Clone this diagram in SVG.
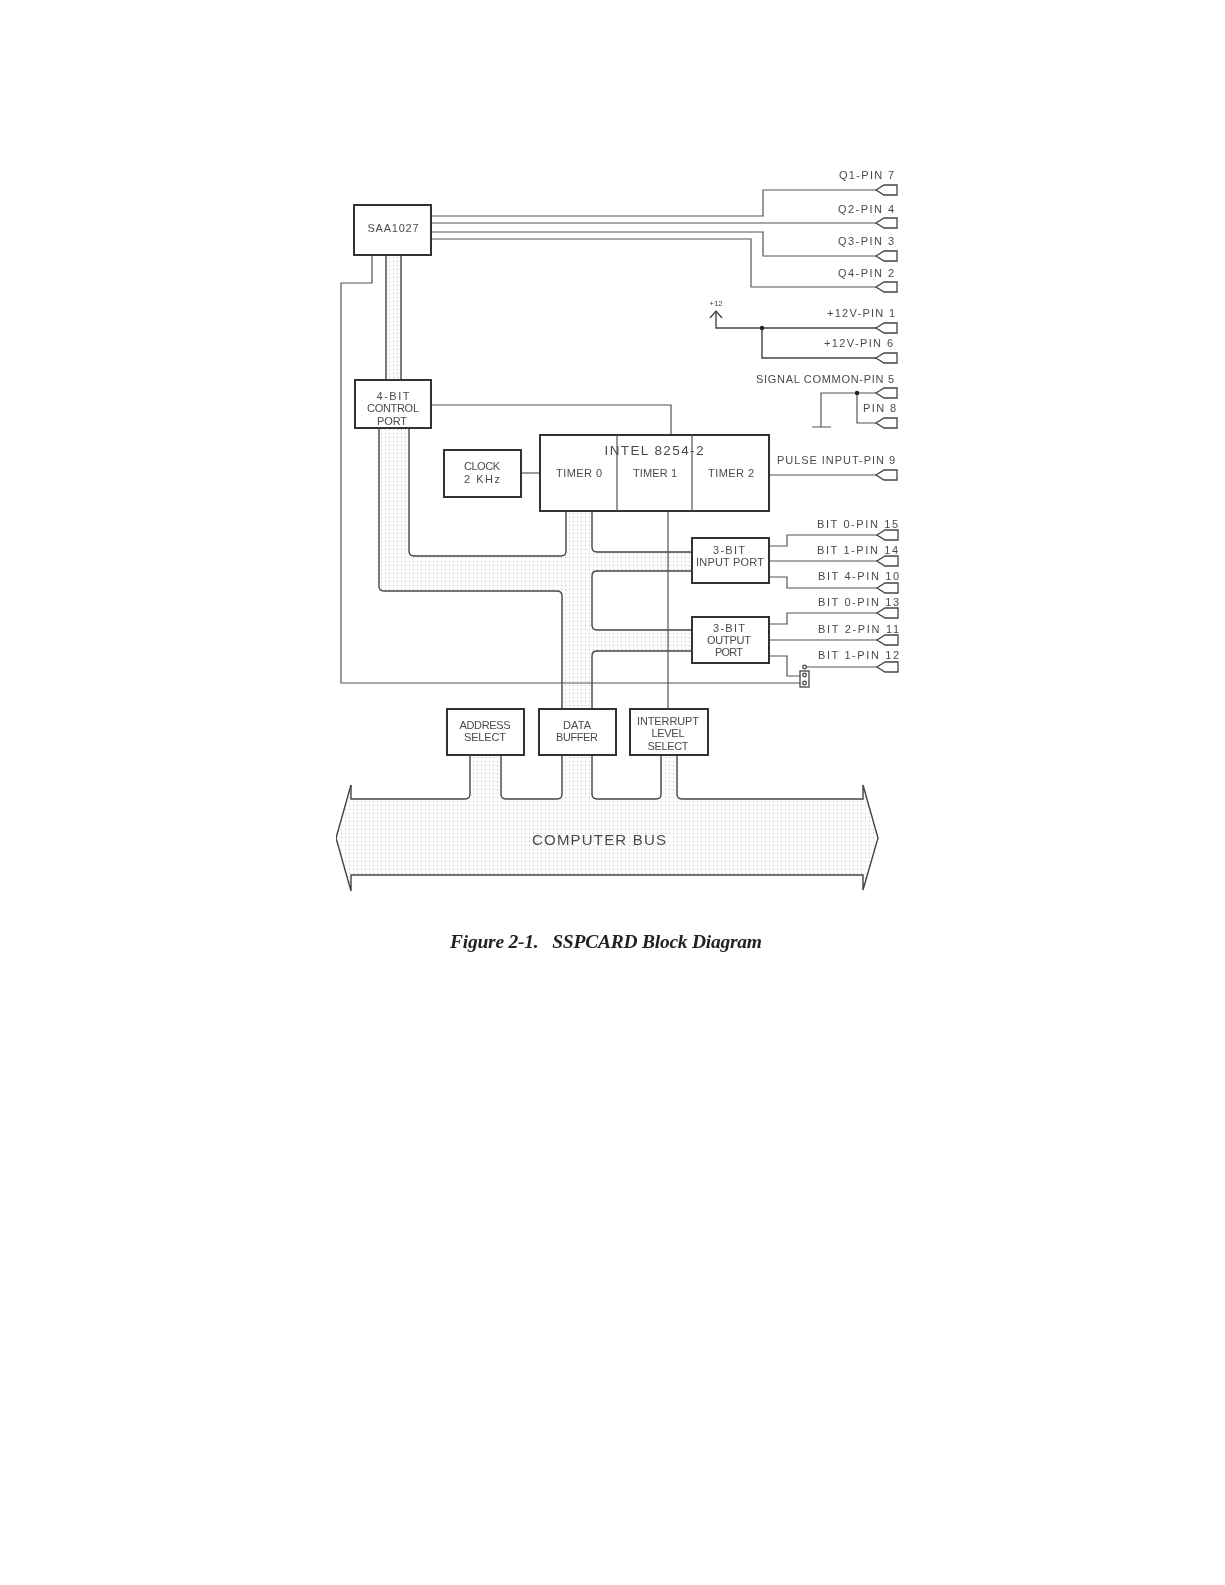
<svg xmlns="http://www.w3.org/2000/svg" width="1225" height="1585" viewBox="0 0 1225 1585">
<style>
.b{fill:#fff;stroke:#333;stroke-width:2}
.w{fill:none;stroke:#555;stroke-width:1.2}
.k{fill:none;stroke:#444;stroke-width:1.4}
.t{font-family:"Liberation Sans",Arial,sans-serif;font-size:11px;fill:#4a4a4a;text-anchor:middle}
.r{text-anchor:end}
.s{fill:url(#dots);stroke:none}
.p{fill:#fff;stroke:#444;stroke-width:1.3}
.c{font-family:"Liberation Serif","Times New Roman",serif;font-size:19.5px;font-weight:bold;font-style:italic;fill:#222;white-space:pre}
</style>
<defs>
<pattern id="dots" width="4" height="4" patternUnits="userSpaceOnUse"><rect width="4" height="4" fill="#fdfdfd"/><rect x="1" y="1" width="1" height="1" fill="#bdbdbd"/></pattern>
<filter id="soft" x="0" y="0" width="100%" height="100%"><feGaussianBlur stdDeviation="0.4"/></filter>
<path id="tag" d="M0 0L8-5H21V5H8Z"/>
</defs>
<rect width="1225" height="1585" fill="#fff"/>
<g filter="url(#soft)">
<g id="connectors">
<path class="s" d="M386 255H401V380H386Z"/>
<path class="s" d="M379 428H409V556H566V511H592V552H692V571H592V630H692V651H592V709H562V591H379Z"/>
<path class="s" d="M336 838L351 785V799H470V755H501V799H562V755H592V799H661V755H677V799H863V785L878 838L863 890V875H351V891Z"/>
<path class="k" d="M386 255V380M401 255V380"/>
<path class="k" d="M409 428V551Q409 556 414 556H561Q566 556 566 551V511"/>
<path class="k" d="M379 428V586Q379 591 384 591H557Q562 591 562 596V709"/>
<path class="k" d="M592 511V547Q592 552 597 552H692"/>
<path class="k" d="M692 571H597Q592 571 592 576V625Q592 630 597 630H692"/>
<path class="k" d="M692 651H597Q592 651 592 656V709"/>
<path class="k" d="M351 785V799H465Q470 799 470 794V755"/>
<path class="k" d="M501 755V794Q501 799 506 799H557Q562 799 562 794V755"/>
<path class="k" d="M592 755V794Q592 799 597 799H656Q661 799 661 794V755"/>
<path class="k" d="M677 755V794Q677 799 682 799H863V785L878 838L863 890V875H351V891L336 838L351 785"/>
<path class="w" d="M431 216H763V190H877"/>
<path class="w" d="M431 223H877"/>
<path class="w" d="M431 232H763V256H877"/>
<path class="w" d="M431 239H751V287H877"/>
<path class="k" d="M716 312V328H877M762 328V358H877"/>
<path class="k" d="M710 318L716 311L722 318"/>
<circle cx="762" cy="328" r="2.2" fill="#222"/>
<path class="w" d="M877 393H821V427M812 427H831"/>
<path class="w" d="M857 393V423H877"/>
<circle cx="857" cy="393" r="2.2" fill="#222"/>
<path class="w" d="M372 255V283H341V683H800"/>
<path class="w" d="M431 405H671V435"/>
<path class="w" d="M521 473H540"/>
<path class="w" d="M668 511V709"/>
<path class="w" d="M769 475H877"/>
<path class="w" d="M769 546H787V535H877"/>
<path class="w" d="M769 561H877"/>
<path class="w" d="M769 577H787V588H877"/>
<path class="w" d="M769 624H787V613H877"/>
<path class="w" d="M769 640H877"/>
<path class="w" d="M769 656H787V676H800"/>
<path class="w" d="M806 667H877"/>
<use href="#tag" class="p" x="876" y="190"/>
<use href="#tag" class="p" x="876" y="223"/>
<use href="#tag" class="p" x="876" y="256"/>
<use href="#tag" class="p" x="876" y="287"/>
<use href="#tag" class="p" x="876" y="328"/>
<use href="#tag" class="p" x="876" y="358"/>
<use href="#tag" class="p" x="876" y="393"/>
<use href="#tag" class="p" x="876" y="423"/>
<use href="#tag" class="p" x="876" y="475"/>
<use href="#tag" class="p" x="877" y="535"/>
<use href="#tag" class="p" x="877" y="561"/>
<use href="#tag" class="p" x="877" y="588"/>
<use href="#tag" class="p" x="877" y="613"/>
<use href="#tag" class="p" x="877" y="640"/>
<use href="#tag" class="p" x="877" y="667"/>
</g>
<g id="saa1027"><rect class="b" x="354" y="205" width="77" height="50"/><text class="t" x="393" y="232" textLength="51">SAA1027</text></g>
<g id="control-port"><rect class="b" x="355" y="380" width="76" height="48"/><text class="t" x="393" y="400" textLength="33">4-BIT</text><text class="t" x="393" y="412" textLength="52">CONTROL</text><text class="t" x="392" y="425" textLength="30">PORT</text></g>
<g id="clock"><rect class="b" x="444" y="450" width="77" height="47"/><text class="t" x="482" y="470" textLength="36">CLOCK</text><text class="t" x="482" y="483" textLength="36">2 KHz</text></g>
<g id="intel-8254"><rect class="b" x="540" y="435" width="229" height="76"/><path class="w" d="M617 435V511M692 435V511"/><text class="t" x="654" y="455" textLength="99" style="font-size:13.500px">INTEL 8254-2</text><text class="t" x="579" y="477" textLength="46">TIMER 0</text><text class="t" x="655" y="477" textLength="44">TIMER 1</text><text class="t" x="731" y="477" textLength="46">TIMER 2</text></g>
<g id="input-port"><rect class="b" x="692" y="538" width="77" height="45"/><text class="t" x="729" y="554" textLength="32">3-BIT</text><text class="t" x="730" y="566" textLength="68">INPUT PORT</text></g>
<g id="output-port"><rect class="b" x="692" y="617" width="77" height="46"/><text class="t" x="729" y="632" textLength="32">3-BIT</text><text class="t" x="729" y="644" textLength="44">OUTPUT</text><text class="t" x="729" y="656" textLength="28">PORT</text></g>
<g id="jumper"><rect class="p" x="800" y="671" width="9" height="16"/><circle class="p" cx="804.500" cy="667" r="1.800"/><circle class="p" cx="804.500" cy="675" r="1.800"/><circle class="p" cx="804.500" cy="683" r="1.800"/></g>
<g id="address-select"><rect class="b" x="447" y="709" width="77" height="46"/><text class="t" x="485" y="729" textLength="51">ADDRESS</text><text class="t" x="485" y="741" textLength="42">SELECT</text></g>
<g id="data-buffer"><rect class="b" x="539" y="709" width="77" height="46"/><text class="t" x="577" y="729" textLength="28">DATA</text><text class="t" x="577" y="741" textLength="42">BUFFER</text></g>
<g id="interrupt-select"><rect class="b" x="630" y="709" width="78" height="46"/><text class="t" x="668" y="725" textLength="62">INTERRUPT</text><text class="t" x="668" y="737" textLength="33">LEVEL</text><text class="t" x="668" y="750" textLength="41">SELECT</text></g>
<g id="computer-bus"><text class="t" x="599" y="845" textLength="134" style="font-size:15px">COMPUTER BUS</text></g>
<g id="pin-labels">
<text class="t r" x="894" y="179" textLength="55">Q1-PIN 7</text>
<text class="t r" x="894" y="213" textLength="56">Q2-PIN 4</text>
<text class="t r" x="894" y="245" textLength="56">Q3-PIN 3</text>
<text class="t r" x="894" y="277" textLength="56">Q4-PIN 2</text>
<text class="t" x="716" y="306" style="font-size:8px">+12</text>
<text class="t r" x="895" y="317" textLength="68">+12V-PIN 1</text>
<text class="t r" x="893" y="347" textLength="69">+12V-PIN 6</text>
<text class="t r" x="894" y="383" textLength="138">SIGNAL COMMON-PIN 5</text>
<text class="t r" x="896" y="412" textLength="33">PIN 8</text>
<text class="t r" x="895" y="464" textLength="118">PULSE INPUT-PIN 9</text>
<text class="t r" x="898" y="528" textLength="81">BIT 0-PIN 15</text>
<text class="t r" x="898" y="554" textLength="81">BIT 1-PIN 14</text>
<text class="t r" x="899" y="580" textLength="81">BIT 4-PIN 10</text>
<text class="t r" x="899" y="606" textLength="81">BIT 0-PIN 13</text>
<text class="t r" x="899" y="633" textLength="81">BIT 2-PIN 11</text>
<text class="t r" x="899" y="659" textLength="81">BIT 1-PIN 12</text>
</g>
<text class="c" x="450" y="948" textLength="312">Figure 2-1.   SSPCARD Block Diagram</text>
</g>
</svg>
